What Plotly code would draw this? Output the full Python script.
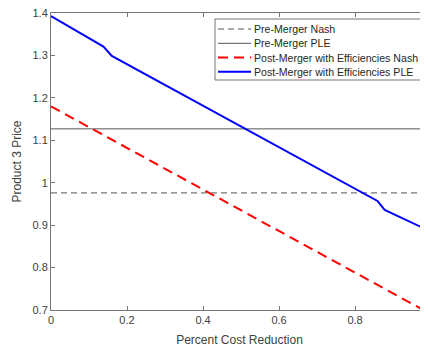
import plotly.graph_objects as go

# Data
x_ends = [0.0, 0.98]
pre_nash = [0.976, 0.976]
pre_ple = [1.127, 1.127]
post_nash_x = [0.0, 0.98]
post_nash_y = [1.18, 0.70]
post_ple_x = [0.0, 0.138, 0.16, 0.859, 0.878, 0.98]
post_ple_y = [1.393, 1.321, 1.299, 0.957, 0.936, 0.893]

x_ticks = [0, 0.2, 0.4, 0.6, 0.8]
x_tick_labels = ["0", "0.2", "0.4", "0.6", "0.8"]
y_ticks = [0.7, 0.8, 0.9, 1.0, 1.1, 1.2, 1.3, 1.4]
y_tick_labels = ["0.7", "0.8", "0.9", "1", "1.1", "1.2", "1.3", "1.4"]

series_names = ["Pre-Merger Nash", "Pre-Merger PLE",
                "Post-Merger with Efficiencies Nash", "Post-Merger with Efficiencies PLE"]
series_styles = [dict(color="#555555", width=1, dash="6px,4px"),
                 dict(color="#555555", width=1),
                 dict(color="#ff0000", width=2, dash="10px,6px"),
                 dict(color="#0000ff", width=2)]

fig = go.Figure()
fig.add_trace(go.Scatter(x=x_ends, y=pre_nash, mode="lines", name=series_names[0],
                         line=series_styles[0]))
fig.add_trace(go.Scatter(x=x_ends, y=pre_ple, mode="lines", name=series_names[1],
                         line=series_styles[1]))
fig.add_trace(go.Scatter(x=post_nash_x, y=post_nash_y, mode="lines", name=series_names[2],
                         line=series_styles[2]))
fig.add_trace(go.Scatter(x=post_ple_x, y=post_ple_y, mode="lines", name=series_names[3],
                         line=series_styles[3]))

# Layout geometry (pixels); the page body adds an 8px offset
OFF = 8
W, H = 428 - OFF, 350 - OFF
ML, MR, MT, MB = 51 - OFF, 0, 13 - OFF, 40
PW, PH = W - ML - MR, H - MT - MB
PLOT_L, PLOT_B = 51, 310  # absolute page pixels


def px(xp):
    return (xp - PLOT_L) / PW


def py(yp):
    return (PLOT_B - yp) / PH


# Compact MATLAB-style legend built from shapes + text
shapes = [dict(type="rect", xref="paper", yref="paper",
               x0=px(215), x1=px(421), y0=py(80), y1=py(19),
               line=dict(color="#777777", width=1), fillcolor="white", layer="above")]
annotations = []
row_y = [29, 43.3, 57.5, 71.7]
for name, style, ry in zip(series_names, series_styles, row_y):
    shapes.append(dict(type="line", xref="paper", yref="paper",
                       x0=px(218), x1=px(251), y0=py(ry), y1=py(ry),
                       line=style, layer="above"))
    annotations.append(dict(text=name, xref="paper", yref="paper",
                            x=px(252.5), y=py(ry), xanchor="left", yanchor="middle",
                            showarrow=False, borderpad=0,
                            font=dict(family="Liberation Sans, Arial", size=10.6,
                                      color="#262626")))

axis_common = dict(showgrid=False, zeroline=False, showline=True, linecolor="#777777",
                   linewidth=1, ticks="inside", ticklen=4, tickcolor="#777777",
                   automargin=False, ticklabeloverflow="allow",
                   tickfont=dict(family="Liberation Sans, Arial", size=11, color="#404040"))

fig.update_layout(
    width=W, height=H,
    margin=dict(l=ML, r=MR, t=MT, b=MB, pad=0),
    plot_bgcolor="white", paper_bgcolor="white",
    font=dict(family="Liberation Sans, Arial", size=10, color="#262626"),
    showlegend=False,
    shapes=shapes,
    annotations=annotations,
    xaxis=dict(range=[0, 0.992], tickvals=x_ticks, ticktext=x_tick_labels,
               mirror="ticks",
               title=dict(text="Percent Cost Reduction",
                          font=dict(size=12, color="#404040"), standoff=10),
               **axis_common),
    yaxis=dict(range=[0.7, 1.4001], tickvals=y_ticks, ticktext=y_tick_labels,
               title=dict(text="Product 3 Price",
                          font=dict(size=12, color="#404040"), standoff=8),
               **axis_common),
)

fig.write_html("out.html")
